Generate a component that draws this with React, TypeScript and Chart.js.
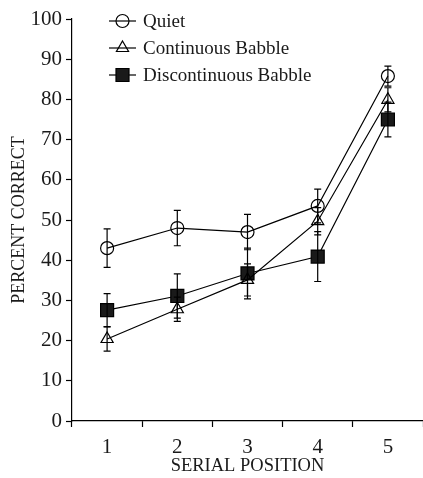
import React, { useEffect, useRef } from "react";
import { Chart, registerables } from "chart.js";

Chart.register(...registerables);

const categories = ["1", "2", "3", "4", "5"];
const seriesNames = ["Quiet", "Continuous Babble", "Discontinuous Babble"];
const quiet = [43, 48, 47, 53.5, 85.8];
const quietErr = [4.8, 4.4, 4.4, 4.2, 2.5];
const continuous = [20.4, 27.8, 35.1, 49.7, 79.9];
const continuousErr = [3, 3, 4, 3.4, 3];
const discontinuous = [27.6, 31.1, 36.7, 40.9, 75];
const discontinuousErr = [4.1, 5.5, 6.3, 6.2, 4.3];
const yTicks = [0, 10, 20, 30, 40, 50, 60, 70, 80, 90, 100];

const FONT = "'Liberation Serif', 'Times New Roman', serif";

function drawMarker(ctx: CanvasRenderingContext2D, style: string, x: number, y: number) {
  ctx.save();
  ctx.strokeStyle = "#000";
  ctx.fillStyle = "#1a1a1a";
  ctx.lineWidth = 1.2;
  ctx.beginPath();
  if (style === "circle") {
    ctx.arc(x, y, 6.5, 0, Math.PI * 2);
    ctx.stroke();
  } else if (style === "triangle") {
    const r = 7;
    ctx.moveTo(x, y - r);
    ctx.lineTo(x + r * Math.sin((2 * Math.PI) / 3), y - r * Math.cos((2 * Math.PI) / 3));
    ctx.lineTo(x + r * Math.sin((4 * Math.PI) / 3), y - r * Math.cos((4 * Math.PI) / 3));
    ctx.closePath();
    ctx.stroke();
  } else {
    ctx.rect(x - 6.5, y - 6.5, 13, 13);
    ctx.fill();
    ctx.stroke();
  }
  ctx.restore();
}

const errorBarPlugin = {
  id: "errorBars",
  afterDatasetsDraw(chart: any) {
    const ctx = chart.ctx;
    const yScale = chart.scales.y;
    ctx.save();
    ctx.strokeStyle = "#000";
    ctx.lineWidth = 1.2;
    chart.data.datasets.forEach((ds: any, di: number) => {
      const meta = chart.getDatasetMeta(di);
      meta.data.forEach((pt: any, i: number) => {
        const v = ds.data[i];
        const e = ds.errors[i];
        const yTop = yScale.getPixelForValue(v + e);
        const yBot = yScale.getPixelForValue(v - e);
        const x = pt.x;
        ctx.beginPath();
        ctx.moveTo(x, yTop);
        ctx.lineTo(x, yBot);
        ctx.moveTo(x - 3.5, yTop);
        ctx.lineTo(x + 3.5, yTop);
        ctx.moveTo(x - 3.5, yBot);
        ctx.lineTo(x + 3.5, yBot);
        ctx.stroke();
      });
    });
    ctx.restore();
  },
};

const legendPlugin = {
  id: "customLegend",
  afterDraw(chart: any) {
    const ctx = chart.ctx;
    const area = chart.chartArea;
    const x0 = area.left + 37;
    const x1 = area.left + 64;
    const xm = (x0 + x1) / 2;
    const rowY = [area.top + 2, area.top + 29, area.top + 56];
    ctx.save();
    chart.data.datasets.forEach((ds: any, i: number) => {
      const y = rowY[i];
      ctx.strokeStyle = "#000";
      ctx.lineWidth = 1.2;
      ctx.beginPath();
      ctx.moveTo(x0, y);
      ctx.lineTo(x1, y);
      ctx.stroke();
      drawMarker(ctx, ds.pointStyle, xm, y);
      ctx.fillStyle = "#1a1a1a";
      ctx.font = "19px " + FONT;
      ctx.textBaseline = "middle";
      ctx.textAlign = "left";
      ctx.fillText(ds.label, x1 + 7, y + 1);
    });
    ctx.restore();
  },
};

export default function App() {
  const ref = useRef<HTMLCanvasElement | null>(null);
  useEffect(() => {
    document.body.style.margin = "0";
    const canvas = ref.current;
    if (!canvas) return;
    const common = {
      borderColor: "#000",
      borderWidth: 1.2,
      pointBorderColor: "#000",
      pointBorderWidth: 1.2,
      pointHoverRadius: 0,
      tension: 0,
    };
    const chart = new Chart(canvas, {
      type: "line",
      data: {
        labels: categories,
        datasets: [
          {
            ...common,
            label: seriesNames[0],
            data: quiet,
            errors: quietErr,
            pointStyle: "circle",
            pointRadius: 6.5,
            pointBackgroundColor: "rgba(0,0,0,0)",
          } as any,
          {
            ...common,
            label: seriesNames[1],
            data: continuous,
            errors: continuousErr,
            pointStyle: "triangle",
            pointRadius: 7,
            pointBackgroundColor: "rgba(0,0,0,0)",
          } as any,
          {
            ...common,
            label: seriesNames[2],
            data: discontinuous,
            errors: discontinuousErr,
            pointStyle: "rect",
            pointRadius: 9.2,
            pointBackgroundColor: "#1a1a1a",
          } as any,
        ],
      },
      options: {
        animation: false,
        responsive: false,
        maintainAspectRatio: false,
        layout: { autoPadding: false, padding: { top: 19, right: 0, left: 0, bottom: 0 } },
        plugins: {
          legend: { display: false },
          tooltip: { enabled: false },
        },
        scales: {
          x: {
            type: "category",
            offset: true,
            grid: {
              display: true,
              offset: true,
              drawOnChartArea: false,
              drawTicks: true,
              tickLength: 6,
              tickColor: "#000",
              tickWidth: 1.2,
            },
            border: { display: true, color: "#000", width: 1.2 },
            ticks: {
              color: "#1a1a1a",
              font: { family: FONT, size: 21 },
              padding: 8,
              maxRotation: 0,
            },
            title: {
              display: true,
              text: "SERIAL POSITION",
              color: "#1a1a1a",
              font: { family: FONT, size: 18.5 },
              padding: { top: 0, bottom: 1 },
            },
            afterFit(scale: any) {
              scale.height = 57;
              scale.paddingRight = 0;
              scale.paddingLeft = 0;
            },
          },
          y: {
            min: 0,
            max: 100,
            afterBuildTicks(scale: any) {
              scale.ticks = yTicks.map((v) => ({ value: v }));
            },
            grid: {
              display: true,
              drawOnChartArea: false,
              drawTicks: true,
              tickLength: 6,
              tickColor: "#000",
              tickWidth: 1.2,
            },
            border: { display: true, color: "#000", width: 1.2 },
            ticks: {
              color: "#1a1a1a",
              font: { family: FONT, size: 21 },
              padding: 4,
            },
            title: {
              display: true,
              text: "PERCENT CORRECT",
              color: "#1a1a1a",
              font: { family: FONT, size: 18 },
              padding: { top: 8, bottom: 0 },
            },
            afterFit(scale: any) {
              scale.width = 72;
            },
          },
        },
      } as any,
      plugins: [errorBarPlugin, legendPlugin],
    });
    return () => chart.destroy();
  }, []);
  return (
    <div style={{ width: 423, height: 478, position: "relative" }}>
      <canvas ref={ref} width={423} height={478} style={{ display: "block" }} />
    </div>
  );
}
